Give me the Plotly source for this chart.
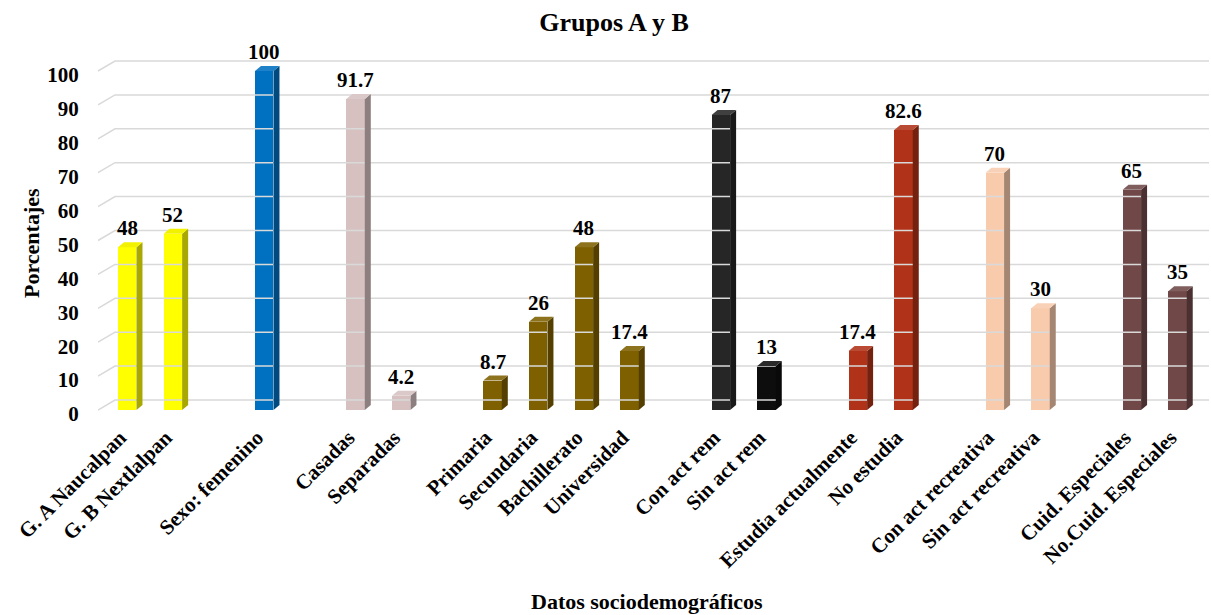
import plotly.graph_objects as go

# Sociodemographic categories (blank entries leave a gap between groups)
categories = [
    "G. A Naucalpan", "G. B Nextlalpan", "",
    "Sexo: femenino", "",
    "Casadas", "Separadas", "",
    "Primaria", "Secundaria", "Bachillerato", "Universidad", "",
    "Con act rem", "Sin act rem", "",
    "Estudia actualmente", "No estudia", "",
    "Con act recreativa", "Sin act recreativa", "",
    "Cuid. Especiales", "No.Cuid. Especiales",
]
values = [
    48, 52, None,
    100, None,
    91.7, 4.2, None,
    8.7, 26, 48, 17.4, None,
    87, 13, None,
    17.4, 82.6, None,
    70, 30, None,
    65, 35,
]
y_ticks = list(range(0, 101, 10))

# Front-face colour of each slot
bar_colors = [
    "#FFFF00", "#FFFF00", None,
    "#0070C0", None,
    "#D6C0C0", "#D6C0C0", None,
    "#7F6000", "#7F6000", "#7F6000", "#7F6000", None,
    "#262626", "#0D0D0D", None,
    "#B03219", "#B03219", None,
    "#F8CBAD", "#F8CBAD", None,
    "#704848", "#704848",
]

# Canvas and plot-area geometry
W, H = 1211, 615
ML, MR, MT, MB = 98, 2, 50, 200
X_RANGE = [-0.64, 23.69]
Y_RANGE = [-1.475, 106.19]
sx = (W - ML - MR) / (X_RANGE[1] - X_RANGE[0])   # px per category slot
sy = (H - MT - MB) / (Y_RANGE[1] - Y_RANGE[0])   # px per percentage point

BAR_W = 18.5 / sx
DEPTH_DX, DEPTH_DY = 6 / sx, 5 / sy      # bar extrusion
WALL_DX, WALL_DY = 17 / sx, 10 / sy      # back wall offset

FONT = "Liberation Serif"


def shade(hex_color, k):
    r, g, b = (int(hex_color[i:i + 2], 16) for i in (1, 3, 5))
    return "#%02x%02x%02x" % tuple(max(0, min(255, int(round(c * k)))) for c in (r, g, b))


def tint(hex_color, t):
    r, g, b = (int(hex_color[i:i + 2], 16) for i in (1, 3, 5))
    return "#%02x%02x%02x" % tuple(int(round(c + (255 - c) * t)) for c in (r, g, b))


fig = go.Figure()

# Back-wall gridlines with the slanted side-wall segment on the left
gx, gy = [], []
for t in y_ticks:
    gx += [X_RANGE[0], X_RANGE[0] + WALL_DX, X_RANGE[1], None]
    gy += [t, t + WALL_DY, t + WALL_DY, None]
fig.add_trace(go.Scatter(
    x=gx, y=gy, mode="lines",
    line=dict(color="#D9D9D9", width=1.5),
    hoverinfo="skip", showlegend=False,
))

slots = [i for i, v in enumerate(values) if v is not None]

# Front faces
fig.add_trace(go.Bar(
    x=slots,
    y=[values[i] for i in slots],
    width=BAR_W,
    marker=dict(color=[bar_colors[i] for i in slots], line=dict(width=0)),
    hovertext=[categories[i] for i in slots],
    showlegend=False,
))

# Side and top faces of each column
for i in slots:
    v = values[i]
    c = bar_colors[i]
    xr = i + BAR_W / 2
    xl = i - BAR_W / 2
    fig.add_trace(go.Scatter(
        x=[xr, xr + DEPTH_DX, xr + DEPTH_DX, xr, xr],
        y=[0, DEPTH_DY, v + DEPTH_DY, v, 0],
        fill="toself", fillcolor=shade(c, 0.66),
        mode="lines", line=dict(width=0, color=shade(c, 0.66)),
        hoverinfo="skip", showlegend=False,
    ))
    fig.add_trace(go.Scatter(
        x=[xl, xr, xr + DEPTH_DX, xl + DEPTH_DX, xl],
        y=[v, v, v + DEPTH_DY, v + DEPTH_DY, v],
        fill="toself", fillcolor=tint(c, 0.12) if c != "#FFFF00" else "#F2F200",
        mode="lines", line=dict(width=0, color=tint(c, 0.12)),
        hoverinfo="skip", showlegend=False,
    ))

# Value labels above each column
for i in slots:
    fig.add_annotation(
        x=i, y=values[i], xref="x", yref="y",
        text=f"{values[i]:g}", showarrow=False,
        xanchor="center", yanchor="bottom", yshift=5,
        font=dict(family=FONT, size=21, color="#000000", weight="bold"),
    )

# Axis titles
fig.add_annotation(
    x=(32 - ML) / (W - ML - MR), y=(H - MB - 243) / (H - MT - MB),
    xref="paper", yref="paper", text="Porcentajes", textangle=-90,
    showarrow=False, xanchor="center", yanchor="middle",
    font=dict(family=FONT, size=22, color="#000000", weight="bold"),
)
fig.add_annotation(
    x=(647 - ML) / (W - ML - MR), y=(H - MB - 601) / (H - MT - MB),
    xref="paper", yref="paper", text="Datos sociodemográficos",
    showarrow=False, xanchor="center", yanchor="middle",
    font=dict(family=FONT, size=22, color="#000000", weight="bold"),
)

fig.update_layout(
    width=W, height=H,
    margin=dict(l=ML, r=MR, t=MT, b=MB),
    paper_bgcolor="#FFFFFF", plot_bgcolor="#FFFFFF",
    title=dict(
        text="Grupos A y B", x=614 / W, xanchor="center",
        y=1 - 22 / H, yanchor="middle", yref="container",
        font=dict(family=FONT, size=26, color="#000000", weight="bold"),
    ),
    bargap=0,
    xaxis=dict(
        range=X_RANGE, tickmode="array",
        tickvals=[i for i, c in enumerate(categories) if c],
        ticktext=[c for c in categories if c],
        tickangle=-45, showgrid=False, zeroline=False, showline=False,
        ticks="outside", ticklen=1, tickcolor="rgba(0,0,0,0)",
        ticklabelshift=-7,
        tickfont=dict(family=FONT, size=21, color="#000000", weight="bold"),
    ),
    yaxis=dict(
        range=Y_RANGE, tickmode="array", tickvals=y_ticks,
        showgrid=False, zeroline=False, showline=False,
        ticks="outside", ticklen=14, tickcolor="rgba(0,0,0,0)",
        ticklabelshift=4,
        tickfont=dict(family=FONT, size=21, color="#000000", weight="bold"),
    ),
)

fig.write_html("out.html")
